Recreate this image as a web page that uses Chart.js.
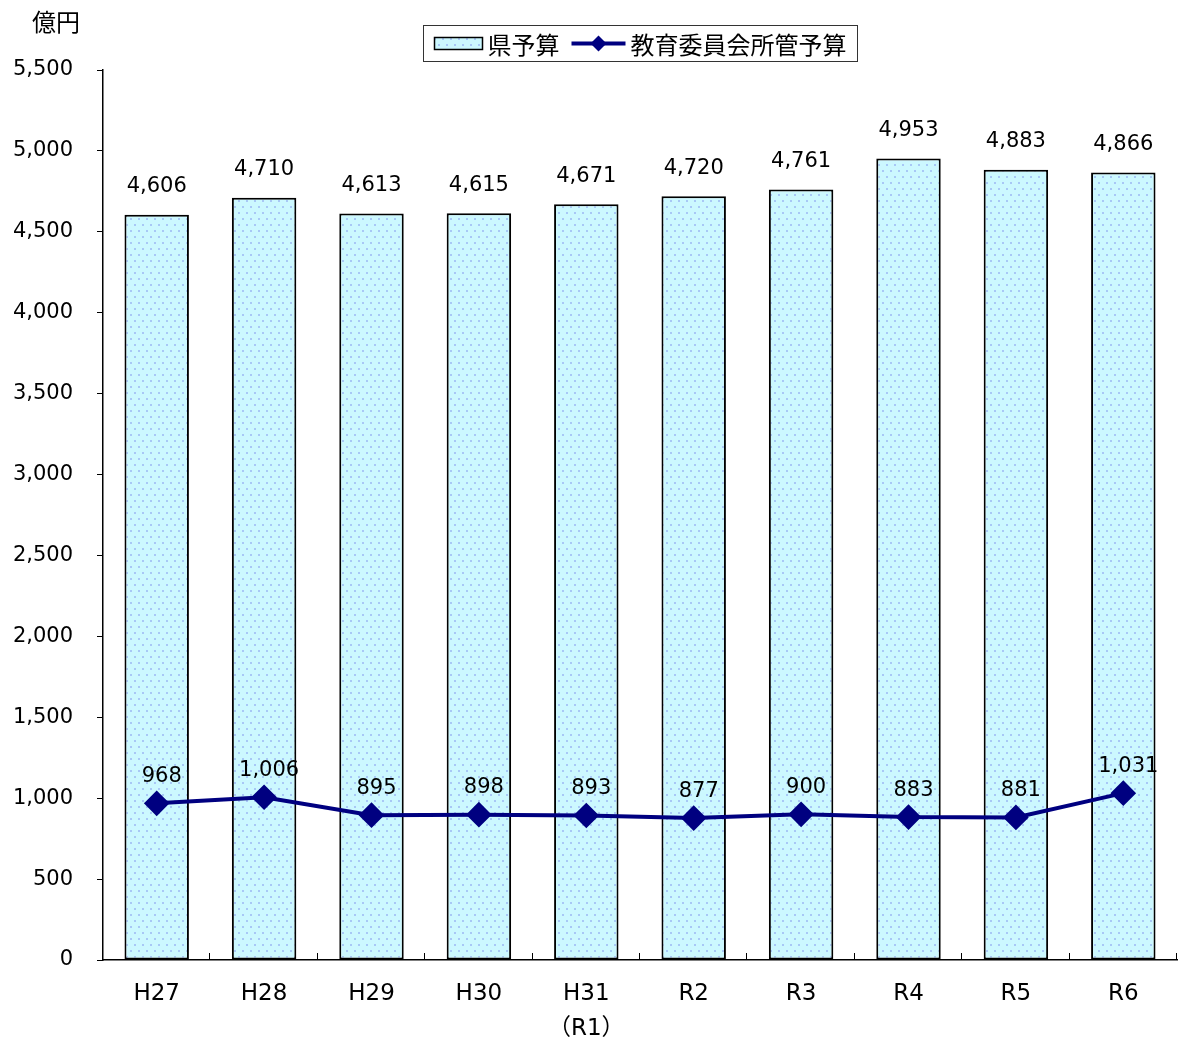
<!DOCTYPE html>
<html>
<head>
<meta charset="utf-8">
<script src="https://cdn.jsdelivr.net/npm/chart.js@4/dist/chart.umd.min.js"></script>
<style>
  html, body { margin: 0; padding: 0; background: #fff; }
  #wrap { width: 1180px; height: 1046px; position: relative; }
</style>
</head>
<body>
<div id="wrap"><canvas id="c" width="1180" height="1046"></canvas></div>
<script>
// 年度
const categories = ['H27', 'H28', 'H29', 'H30', ['H31', '（R1）'], 'R2', 'R3', 'R4', 'R5', 'R6'];
// 県予算（億円）
const prefBudget = [4606, 4710, 4613, 4615, 4671, 4720, 4761, 4953, 4883, 4866];
// 教育委員会所管予算（億円）
const eduBudget = [968, 1006, 895, 898, 893, 877, 900, 883, 881, 1031];
const yTicks = { min: 0, max: 5500, step: 500 };
const seriesNames = ['県予算', '教育委員会所管予算'];
const unitLabel = '億円';

const NUM_FONT = "'DejaVu Sans', 'Noto Sans CJK JP', sans-serif";
const JP_FONT = "'Noto Sans CJK JP', 'DejaVu Sans', sans-serif";
const NAVY = '#000080';

// dotted light-cyan fill for the bars
function makeDotPattern() {
  const t = document.createElement('canvas');
  t.width = 8; t.height = 12;
  const g = t.getContext('2d');
  g.fillStyle = '#ccf8ff';
  g.fillRect(0, 0, 8, 12);
  g.fillStyle = '#a8c8f6';
  g.fillRect(2, 2, 2, 2);
  g.fillRect(6, 8, 2, 2);
  return document.getElementById('c').getContext('2d').createPattern(t, 'repeat');
}
const dotPattern = makeDotPattern();

const fmt = v => v.toLocaleString('en-US');

// value labels above bars and line points
const valueLabels = {
  id: 'valueLabels',
  afterDatasetsDraw(chart) {
    const ctx = chart.ctx;
    ctx.save();
    ctx.fillStyle = '#000';
    ctx.font = `21px ${NUM_FONT}`;
    ctx.textAlign = 'center';
    ctx.textBaseline = 'middle';
    chart.data.datasets.forEach((ds, di) => {
      const meta = chart.getDatasetMeta(di);
      meta.data.forEach((el, i) => {
        const off = ds.type === 'bar' ? 28 : 27;
        const dx = ds.type === 'bar' ? 0 : 5;
        ctx.fillText(fmt(ds.data[i]), el.x + dx, el.y - off);
      });
    });
    ctx.restore();
  }
};

// axis decorations, unit label and boxed legend
const decor = {
  id: 'decor',
  afterDraw(chart) {
    const ctx = chart.ctx;
    const a = chart.chartArea;
    ctx.save();
    // inward tick marks at category boundaries on the x axis
    ctx.strokeStyle = '#000';
    ctx.lineWidth = 1;
    const n = categories.length;
    const w = (a.right - a.left) / n;
    for (let i = 1; i <= n; i++) {
      const x = Math.round(a.left + i * w) - 0.5;
      ctx.beginPath();
      ctx.moveTo(x, a.bottom);
      ctx.lineTo(x, a.bottom - 7);
      ctx.stroke();
    }
    // unit label
    ctx.fillStyle = '#000';
    ctx.font = `24px ${JP_FONT}`;
    ctx.textAlign = 'center';
    ctx.textBaseline = 'middle';
    ctx.fillText(unitLabel, 56, 22);

    // legend
    ctx.font = `24px ${JP_FONT}`;
    ctx.textAlign = 'left';
    const sw1 = 48, sw2 = 54, gap = 5, itemGap = 12, padX = 11;
    const t1 = ctx.measureText(seriesNames[0]).width;
    const t2 = ctx.measureText(seriesNames[1]).width;
    const boxW = padX + sw1 + gap + t1 + itemGap + sw2 + gap + t2 + padX;
    const boxH = 36;
    const cx = (a.left + a.right) / 2;
    const bx = Math.round(cx - boxW / 2) + 0.5;
    const by = 25.5;
    ctx.fillStyle = '#fff';
    ctx.fillRect(bx, by, boxW, boxH);
    ctx.strokeStyle = '#333';
    ctx.lineWidth = 1;
    ctx.strokeRect(bx, by, boxW, boxH);
    const my = by + boxH / 2;
    let x = bx + padX;
    ctx.fillStyle = dotPattern;
    ctx.fillRect(x, my - 6, sw1, 12);
    ctx.strokeStyle = '#000';
    ctx.lineWidth = 1.5;
    ctx.strokeRect(x, my - 6, sw1, 12);
    x += sw1 + gap;
    ctx.fillStyle = '#000';
    ctx.fillText(seriesNames[0], x, my + 1);
    x += t1 + itemGap;
    ctx.strokeStyle = NAVY;
    ctx.lineWidth = 4;
    ctx.beginPath();
    ctx.moveTo(x, my);
    ctx.lineTo(x + sw2, my);
    ctx.stroke();
    const dc = x + sw2 / 2;
    ctx.fillStyle = NAVY;
    ctx.beginPath();
    ctx.moveTo(dc, my - 8);
    ctx.lineTo(dc + 8, my);
    ctx.lineTo(dc, my + 8);
    ctx.lineTo(dc - 8, my);
    ctx.closePath();
    ctx.fill();
    x += sw2 + gap;
    ctx.fillStyle = '#000';
    ctx.fillText(seriesNames[1], x, my + 1);
    ctx.restore();
  }
};

new Chart(document.getElementById('c'), {
  data: {
    labels: categories,
    datasets: [
      {
        type: 'line',
        label: seriesNames[1],
        data: eduBudget,
        borderColor: NAVY,
        backgroundColor: NAVY,
        borderWidth: 4,
        pointStyle: 'rectRot',
        pointRadius: 10,
        pointHoverRadius: 10,
        pointBackgroundColor: NAVY,
        pointBorderColor: NAVY,
        tension: 0,
        order: 0
      },
      {
        type: 'bar',
        label: seriesNames[0],
        data: prefBudget,
        backgroundColor: dotPattern,
        borderColor: '#000',
        borderWidth: 2,
        borderSkipped: false,
        barPercentage: 0.6,
        categoryPercentage: 1,
        order: 1
      }
    ]
  },
  options: {
    responsive: false,
    animation: false,
    devicePixelRatio: 1,
    layout: { autoPadding: false, padding: { top: 70, right: 3, left: 0, bottom: 0 } },
    plugins: {
      legend: { display: false },
      tooltip: { enabled: false }
    },
    scales: {
      x: {
        type: 'category',
        offset: true,
        grid: { display: false, drawTicks: false },
        border: { display: true, color: '#000', width: 1.5 },
        ticks: {
          color: '#000',
          padding: 17,
          maxRotation: 0,
          autoSkip: false,
          font: { family: NUM_FONT, size: 23, lineHeight: 1.5 }
        },
        afterFit(s) {
          s.height = 86;
          s.paddingLeft = 0;
          s.paddingRight = 0;
        }
      },
      y: {
        min: yTicks.min,
        max: yTicks.max,
        grid: { drawOnChartArea: false, drawTicks: true, tickLength: 6, color: '#000' },
        border: { display: true, color: '#000', width: 1.5 },
        ticks: {
          stepSize: yTicks.step,
          color: '#000',
          padding: 24,
          font: { family: NUM_FONT, size: 21 },
          callback: v => fmt(v)
        },
        afterFit(s) { s.width = 103; }
      }
    }
  },
  plugins: [valueLabels, decor]
});
</script>
</body>
</html>
